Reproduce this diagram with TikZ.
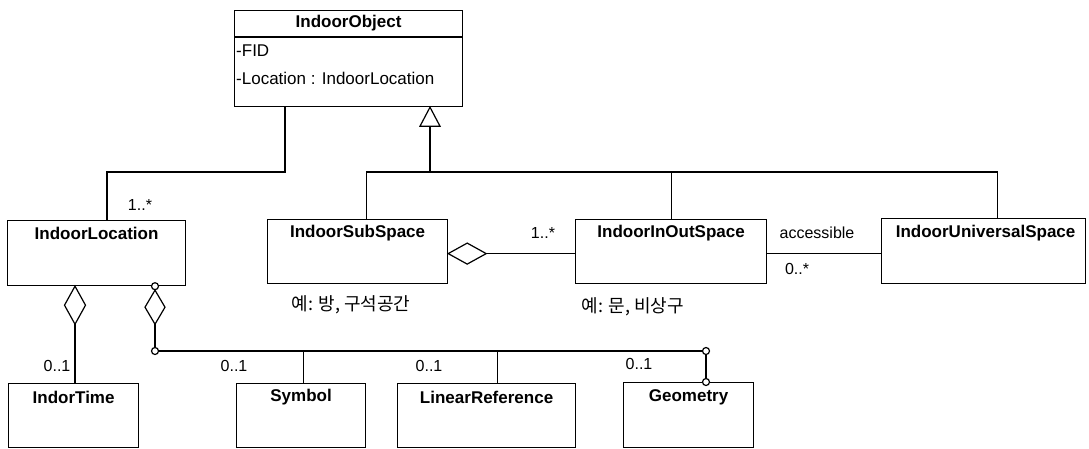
\documentclass[tikz,border=0pt]{standalone}
\usepackage{fontspec}
\setmainfont{Liberation Sans}
\newfontfamily\kr{Noto Sans CJK KR}
\begin{document}
\begin{tikzpicture}[x=1pt,y=-1pt,
  cls/.style={draw, line width=1.2pt, inner sep=0pt, anchor=north west, fill=white},
  ttl/.style={font=\bfseries\fontsize{17}{19}\selectfont, inner sep=0pt},
  lbl/.style={font=\fontsize{16}{18}\selectfont, inner sep=0pt},
  attr/.style={font=\fontsize{17}{19}\selectfont, inner sep=0pt, anchor=west},
  krl/.style={font=\kr\fontsize{18}{20}\selectfont, inner sep=0pt},
  conn/.style={line width=1.2pt},
  knob/.style={draw, line width=1.2pt, fill=white, circle, inner sep=0pt, minimum size=7pt}]
\useasboundingbox (0,0) rectangle (1089,448);
\clip (0,0) rectangle (1089,448);

% classes
\node[cls, minimum width=228pt, minimum height=96pt] (obj) at (234,10) {};
\node[cls, minimum width=178pt, minimum height=65pt] (loc) at (7,220) {};
\node[cls, minimum width=180pt, minimum height=64pt] (sub) at (267,219) {};
\node[cls, minimum width=191pt, minimum height=64pt] (io)  at (575,219) {};
\node[cls, minimum width=204pt, minimum height=65pt] (uni) at (881,218) {};
\node[cls, minimum width=130pt, minimum height=64pt] (tim) at (8,383) {};
\node[cls, minimum width=129pt, minimum height=64pt] (sym) at (236,383) {};
\node[cls, minimum width=178pt, minimum height=64pt] (lin) at (397,383) {};
\node[cls, minimum width=130pt, minimum height=65pt] (geo) at (623,382) {};

% titles
\node[ttl] (objt) at ([yshift=-13pt]obj.north) {IndoorObject};
\draw[conn] ([yshift=-27pt]obj.north west) -- ([yshift=-27pt]obj.north east);
\node[attr] (obja) at ([xshift=2pt,yshift=-41pt]obj.north west) {-FID};
\node[attr] (objb) at ([xshift=2pt,yshift=-68pt]obj.north west) {-Location : IndoorLocation};
\node[ttl] (loct) at ([yshift=-13pt]loc.north) {IndoorLocation};
\node[ttl] (subt) at ([yshift=-14pt]sub.north) {IndoorSubSpace};
\node[ttl] (iot)  at ([yshift=-14pt]io.north) {IndoorInOutSpace};
\node[ttl] (unit) at ([xshift=2pt,yshift=-15pt]uni.north) {IndoorUniversalSpace};
\node[ttl] (timt) at ([yshift=-14pt]tim.north) {IndorTime};
\node[ttl] (symt) at ([yshift=-14pt]sym.north) {Symbol};
\node[ttl] (lint) at ([yshift=-14pt]lin.north) {LinearReference};
\node[ttl] (geot) at ([yshift=-15pt]geo.north) {Geometry};

% IndoorObject -- IndoorLocation
\coordinate (bendA) at (107,172);
\draw[conn] ([xshift=51pt]obj.south west) |- (bendA) -- (bendA |- loc.north);
\node[lbl] (m1) at (140,205) {1..*};

% generalization
\coordinate (tip) at ([xshift=196pt]obj.south west);
\coordinate (gen) at (430,172);
\draw[conn, fill=white] (tip) -- ++(10,19) -- ++(-20,0) -- cycle;
\draw[conn] ([yshift=-19pt]tip) -- (gen);
\draw[conn] ([xshift=9pt]sub.north) |- (gen) -| ([xshift=14pt]uni.north);
\draw[conn] (io.north) -- (io.north |- gen);

% aggregation SubSpace -- InOutSpace
\coordinate (sd) at ([yshift=-2pt]sub.east);
\draw[conn] (sd) -- ++(19,-10.5) -- ++(19,10.5) -- ++(-19,10.5) -- cycle;
\draw[conn] ([xshift=38pt]sd) -- (io.west |- sd);
\node[lbl] (m2) at (543,233) {1..*};

% accessible
\draw[conn] (io.east |- sd) -- (uni.west |- sd);
\node[lbl] (acc) at (817,233) {accessible};
\node[lbl] (m3) at (797,269) {0..*};

% notes
\node[krl] (n1) at (351,305) {예: 방, 구석공간};
\node[krl] (n2) at (633,307) {예: 문, 비상구};

% IndoorLocation -- IndorTime
\coordinate (ld) at ([xshift=68pt]loc.south west);
\draw[conn] (ld) -- ++(10.5,19) -- ++(-10.5,19) -- ++(-10.5,-19) -- cycle;
\draw[conn] ([yshift=-38pt]ld) -- (ld |- tim.north);
\node[lbl] (m4) at (57,366) {0..1};

% IndoorLocation -- Symbol / LinearReference / Geometry
\coordinate (rd) at ([xshift=148pt]loc.south west);
\coordinate (bus) at (155,351);
\coordinate (busend) at (706,351);
\draw[conn] ([yshift=-4pt]rd) -- ++(10,17) -- ++(-10,17) -- ++(-10,-17) -- cycle;
\draw[conn] ([yshift=-38pt]rd) -- (bus) -- (busend) -- (busend |- geo.north);
\draw[conn] ([xshift=2.5pt]sym.north |- bus) -- ([xshift=2.5pt]sym.north);
\draw[conn] ([xshift=11pt]lin.north |- bus) -- ([xshift=11pt]lin.north);
\node[knob] (k1) at (rd) {};
\node[knob] (k2) at (bus) {};
\node[knob] (k3) at (busend) {};
\node[knob] (k4) at (busend |- geo.north) {};
\node[lbl] (m5) at (234,366) {0..1};
\node[lbl] (m6) at (429,366) {0..1};
\node[lbl] (m7) at (639,364) {0..1};
\end{tikzpicture}
\end{document}
